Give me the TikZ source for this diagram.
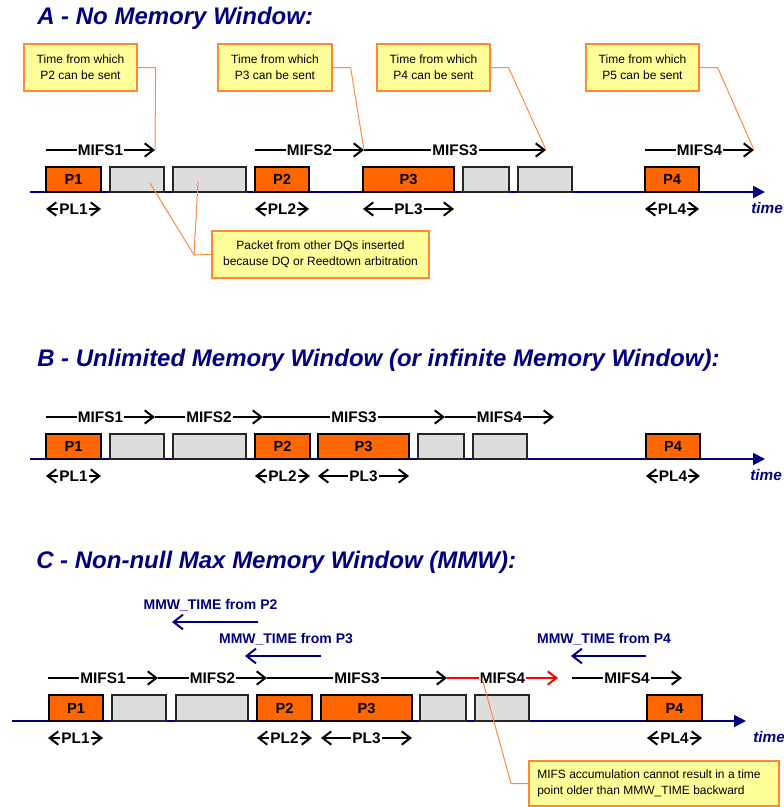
\documentclass[tikz,border=0pt]{standalone}
\usepackage{fontspec}
\setmainfont{Liberation Sans}
\usetikzlibrary{arrows.meta,fit}
\definecolor{navy}{RGB}{0,0,128}
\definecolor{pkor}{HTML}{FF6600}
\definecolor{pkgr}{HTML}{DDDDDD}
\definecolor{cofill}{HTML}{FFFF99}
\definecolor{codraw}{HTML}{FF8833}
\definecolor{coline}{HTML}{FF8844}
\begin{document}
\begin{tikzpicture}[x=0.75pt,y=-0.75pt,
  ttl/.style={font=\fontsize{18}{22}\selectfont\bfseries\itshape, text=navy, anchor=base west, inner sep=0pt},
  pkt/.style={draw=black, line width=1pt, fill=pkor, inner sep=0pt},
  plab/.style={inner sep=0pt, font=\fontsize{11}{13}\selectfont\bfseries},
  oth/.style={draw=black!85, line width=1pt, fill=pkgr, inner sep=0pt},
  axis/.style={draw=navy, line width=1.4pt, -{Triangle[length=9pt,width=9pt]}},
  dim/.style={line width=1pt, -{Straight Barb[length=6.5pt,width=10pt,line width=1.5pt]}},
  dimb/.style={line width=1pt, {Straight Barb[length=6.5pt,width=10pt,line width=1.5pt]}-{Straight Barb[length=6.5pt,width=10pt,line width=1.5pt]}},
  lab/.style={fill=white, inner sep=1pt, font=\fontsize{11.5}{13}\selectfont\bfseries},
  timelab/.style={anchor=base west, inner sep=0pt, text=navy, font=\fontsize{11.5}{13}\selectfont\bfseries\itshape},
  callout/.style={draw=codraw, line width=0.9pt, fill=cofill, inner sep=0pt},
  ctext/.style={inner sep=0pt, align=center, font=\fontsize{9}{12}\selectfont},
  leader/.style={draw=coline, line width=0.75pt},
  mmw/.style={draw=navy, line width=1.5pt, -{Straight Barb[length=7pt,width=11pt,line width=1.5pt]}},
  mmwlab/.style={anchor=base, inner sep=0pt, text=navy, font=\fontsize{10.5}{12}\selectfont\bfseries},
]
\useasboundingbox (0,0) rectangle (783,807);

%%%%%%%%%%%%%%%% A %%%%%%%%%%%%%%%%
\node[ttl] (ta) at (37,24) {A - No Memory Window:};
\coordinate (axA0) at (30,192);
\coordinate (axA1) at (765,192);
\draw[axis] (axA0) -- (axA1);
\node[pkt, fit={(46,167)(101,192)}] (a1) {};
\node[oth, fit={(110,167)(164,192)}] (ag1) {};
\node[oth, fit={(173,167)(246,192)}] (ag2) {};
\node[pkt, fit={(255,167)(309,192)}] (a2) {};
\node[pkt, fit={(363,167)(454,192)}] (a3) {};
\node[oth, fit={(463,167)(509,192)}] (ag3) {};
\node[oth, fit={(518,167)(572,192)}] (ag4) {};
\node[pkt, fit={(645,167)(699,192)}] (a4) {};
\node[plab] (a1t) at (a1.center) {P1};
\node[plab] (a2t) at (a2.center) {P2};
\node[plab] (a3t) at (a3.center) {P3};
\node[plab] (a4t) at (a4.center) {P4};

\coordinate (am1s) at (46,150);
\coordinate (am1e) at (155,150);
\coordinate (am2s) at (255,150);
\coordinate (am2e) at (364,150);
\coordinate (am3e) at (546,150);
\coordinate (am4s) at (645,150);
\coordinate (am4e) at (754,150);
\draw[dim] (am1s) -- node[lab] (amL1) {MIFS1} (am1e);
\draw[dim] (am2s) -- node[lab] (amL2) {MIFS2} (am2e);
\draw[dim] (am2e) -- node[lab] (amL3) {MIFS3} (am3e);
\draw[dim] (am4s) -- node[lab] (amL4) {MIFS4} (am4e);

\coordinate (ap1s) at (46,209);  \coordinate (ap1e) at (101,209);
\coordinate (ap2s) at (255,209); \coordinate (ap2e) at (309,209);
\coordinate (ap3s) at (363,209); \coordinate (ap3e) at (454,209);
\coordinate (ap4s) at (645,209); \coordinate (ap4e) at (699,209);
\draw[dimb] (ap1s) -- node[lab] (apL1) {PL1} (ap1e);
\draw[dimb] (ap2s) -- node[lab] (apL2) {PL2} (ap2e);
\draw[dimb] (ap3s) -- node[lab] (apL3) {PL3} (ap3e);
\draw[dimb] (ap4s) -- node[lab] (apL4) {PL4} (ap4e);
\node[timelab] (tA) at (751,213) {time};

\node[callout, fit={(24,44)(137,91)}] (c1) {};
\node[callout, fit={(218,44)(332,91)}] (c2) {};
\node[callout, fit={(377,44)(490,91)}] (c3) {};
\node[callout, fit={(586,44)(699,91)}] (c4) {};
\node[ctext] (c1t) at (c1.center) {Time from which\\P2 can be sent};
\node[ctext] (c2t) at (c2.center) {Time from which\\P3 can be sent};
\node[ctext] (c3t) at (c3.center) {Time from which\\P4 can be sent};
\node[ctext] (c4t) at (c4.center) {Time from which\\P5 can be sent};
\draw[leader] (c1.east) -- +(18,0) -- (am1e);
\draw[leader] (c2.east) -- +(18,0) -- (am2e);
\draw[leader] (c3.east) -- +(18,0) -- (am3e);
\draw[leader] (c4.east) -- +(18,0) -- (am4e);

\node[callout, fit={(212,231)(429,278)}] (cdq) {};
\node[ctext] (cdqt) at (cdq.center) {Packet from other DQs inserted\\because DQ or Reedtown arbitration};
\coordinate (dqk) at (194,255);
\coordinate (dq1) at (150,183);
\coordinate (dq2) at (198,182);
\draw[leader] (cdq.west) -- (dqk) -- (dq1);
\draw[leader] (dqk) -- (dq2);

%%%%%%%%%%%%%%%% B %%%%%%%%%%%%%%%%
\node[ttl] (tb) at (37,366) {B - Unlimited Memory Window (or infinite Memory Window):};
\coordinate (axB0) at (30,459);
\coordinate (axB1) at (765,459);
\draw[axis] (axB0) -- (axB1);
\node[pkt, fit={(46,434)(101,459)}] (b1) {};
\node[oth, fit={(110,434)(164,459)}] (bg1) {};
\node[oth, fit={(173,434)(246,459)}] (bg2) {};
\node[pkt, fit={(255,434)(310,459)}] (b2) {};
\node[pkt, fit={(318,434)(409,459)}] (b3) {};
\node[oth, fit={(418,434)(464,459)}] (bg3) {};
\node[oth, fit={(473,434)(527,459)}] (bg4) {};
\node[pkt, fit={(646,434)(700,459)}] (b4) {};
\node[plab] (b1t) at (b1.center) {P1};
\node[plab] (b2t) at (b2.center) {P2};
\node[plab] (b3t) at (b3.center) {P3};
\node[plab] (b4t) at (b4.center) {P4};

\coordinate (bm0) at (46,417);
\coordinate (bm1) at (155,417);
\coordinate (bm2) at (263,417);
\coordinate (bm3) at (445,417);
\coordinate (bm4) at (554,417);
\draw[dim] (bm0) -- node[lab] (bmL1) {MIFS1} (bm1);
\draw[dim] (bm1) -- node[lab] (bmL2) {MIFS2} (bm2);
\draw[dim] (bm2) -- node[lab] (bmL3) {MIFS3} (bm3);
\draw[dim] (bm3) -- node[lab] (bmL4) {MIFS4} (bm4);

\coordinate (bp1s) at (46,476);  \coordinate (bp1e) at (101,476);
\coordinate (bp2s) at (255,476); \coordinate (bp2e) at (310,476);
\coordinate (bp3s) at (318,476); \coordinate (bp3e) at (409,476);
\coordinate (bp4s) at (646,476); \coordinate (bp4e) at (700,476);
\draw[dimb] (bp1s) -- node[lab] (bpL1) {PL1} (bp1e);
\draw[dimb] (bp2s) -- node[lab] (bpL2) {PL2} (bp2e);
\draw[dimb] (bp3s) -- node[lab] (bpL3) {PL3} (bp3e);
\draw[dimb] (bp4s) -- node[lab] (bpL4) {PL4} (bp4e);
\node[timelab] (tB) at (750,480) {time};

%%%%%%%%%%%%%%%% C %%%%%%%%%%%%%%%%
\node[ttl] (tc) at (36,568) {C - Non-null Max Memory Window (MMW):};

\node[mmwlab] (mw2) at (210.5,609) {MMW\_TIME from P2};
\coordinate (mw2s) at (258,622); \coordinate (mw2e) at (172,622);
\draw[mmw] (mw2s) -- (mw2e);
\node[mmwlab] (mw3) at (286,643) {MMW\_TIME from P3};
\coordinate (mw3s) at (321,656); \coordinate (mw3e) at (245,656);
\draw[mmw] (mw3s) -- (mw3e);
\node[mmwlab] (mw4) at (604,643) {MMW\_TIME from P4};
\coordinate (mw4s) at (646,656); \coordinate (mw4e) at (571,656);
\draw[mmw] (mw4s) -- (mw4e);

\coordinate (axC0) at (12,721);
\coordinate (axC1) at (746,721);
\draw[axis] (axC0) -- (axC1);
\node[pkt, fit={(49,695)(103,721)}] (k1) {};
\node[oth, fit={(112,695)(166,721)}] (kg1) {};
\node[oth, fit={(176,695)(248,721)}] (kg2) {};
\node[pkt, fit={(257,695)(312,721)}] (k2) {};
\node[pkt, fit={(321,695)(412,721)}] (k3) {};
\node[oth, fit={(420,695)(466,721)}] (kg3) {};
\node[oth, fit={(475,695)(529,721)}] (kg4) {};
\node[pkt, fit={(647,695)(702,721)}] (k4) {};
\node[plab] (k1t) at (k1.center) {P1};
\node[plab] (k2t) at (k2.center) {P2};
\node[plab] (k3t) at (k3.center) {P3};
\node[plab] (k4t) at (k4.center) {P4};

\coordinate (cm0) at (48,678);
\coordinate (cm1) at (158,678);
\coordinate (cm2) at (267,678);
\coordinate (cm3) at (447,678);
\coordinate (cm4) at (558,678);
\coordinate (cm5) at (572,678);
\coordinate (cm6) at (682,678);
\draw[dim] (cm0) -- node[lab] (cmL1) {MIFS1} (cm1);
\draw[dim] (cm1) -- node[lab] (cmL2) {MIFS2} (cm2);
\draw[dim] (cm2) -- node[lab] (cmL3) {MIFS3} (cm3);
\draw[dim, red] (cm3) -- node[lab, text=black] (cmL4) {MIFS4} (cm4);
\draw[dim] (cm5) -- node[lab] (cmL5) {MIFS4} (cm6);

\coordinate (cp1s) at (48,738);  \coordinate (cp1e) at (103,738);
\coordinate (cp2s) at (257,738); \coordinate (cp2e) at (312,738);
\coordinate (cp3s) at (321,738); \coordinate (cp3e) at (412,738);
\coordinate (cp4s) at (647,738); \coordinate (cp4e) at (702,738);
\draw[dimb] (cp1s) -- node[lab] (cpL1) {PL1} (cp1e);
\draw[dimb] (cp2s) -- node[lab] (cpL2) {PL2} (cp2e);
\draw[dimb] (cp3s) -- node[lab] (cpL3) {PL3} (cp3e);
\draw[dimb] (cp4s) -- node[lab] (cpL4) {PL4} (cp4e);
\node[timelab] (tC) at (753,742) {time};

\node[callout, fit={(529,761)(779,806)}] (cmw) {};
\node[anchor=west, align=left, inner sep=0pt, font=\fontsize{9}{12}\selectfont] (cmwt) at (537,783.5) {MIFS accumulation cannot result in a time\\point older than MMW\_TIME backward};
\coordinate (cmwk) at (511,783.5);
\coordinate (cmwp) at (482,678);
\draw[leader] (cmw.west) -- (cmwk) -- (cmwp);
\end{tikzpicture}
\end{document}
